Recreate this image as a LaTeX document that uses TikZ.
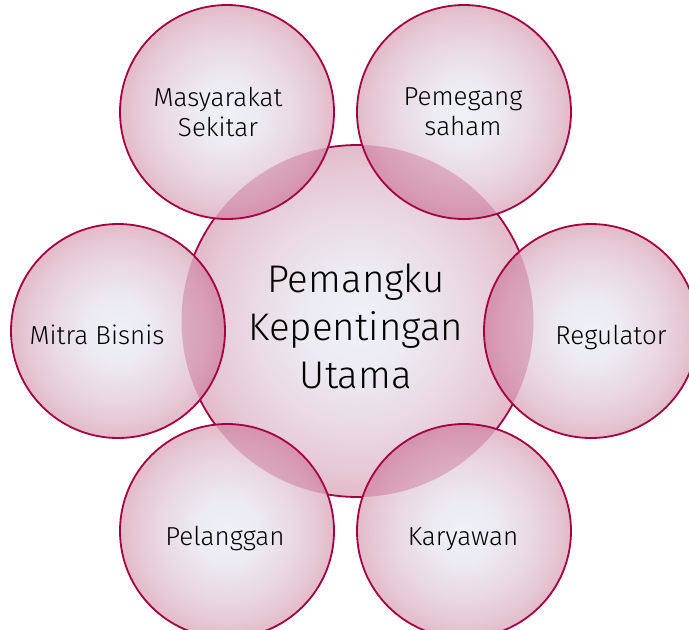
\documentclass[tikz,border=0pt]{standalone}
\usepackage{fontspec}
\setmainfont{Fira Sans Light}
\definecolor{crim}{RGB}{165,0,68}
\definecolor{bcin}{RGB}{238,241,248}
\definecolor{bcout}{RGB}{227,186,201}
\pgfdeclareradialshading{ballshade}{\pgfpoint{0bp}{0bp}}{color(0bp)=(bcin); color(7bp)=(bcin!90!bcout); color(15bp)=(bcin!58!bcout); color(21bp)=(bcin!28!bcout); color(25bp)=(bcout); color(50bp)=(bcout)}
\tikzset{
  ballfill/.style={circle, inner sep=0pt, outer sep=0pt, shading=ballshade},
  rim/.style={draw=crim, line width=1.8pt},
  lens/.style={fill=crim, fill opacity=0.21},
  bigtxt/.style={font=\fontsize{38.5}{48}\selectfont, align=center, text=black},
  smalltxt/.style={font=\fontsize{26}{30}\selectfont, align=center, text=black},
}
\begin{document}
\begin{tikzpicture}[x=1pt,y=-1pt]
\useasboundingbox (0,0) rectangle (689,630);
% central circle
\node[ballfill, rim, minimum size=352pt] (main) at (357.5,321) {};
% outer circles
\foreach \nm/\px/\py in {ms/227/112, ps/464/112, rg/591/331, mb/118/331, pl/227/531, kr/464/531}{
  \node[ballfill, minimum size=214pt] (\nm) at (\px,\py) {};
  \begin{scope}
    \clip (\nm.center) circle (107pt);
    \path[lens] (main.center) circle (176pt);
  \end{scope}
  \draw[rim] (\nm.center) circle (107pt);
}
% labels
\node[bigtxt] (tmain) at (356,326) {Pemangku\\Kepentingan\\Utama};
\node[smalltxt] (tms) at (218,112) {Masyarakat\\Sekitar};
\node[smalltxt] (tps) at (463,112) {Pemegang\\saham};
\node[smalltxt, anchor=base] (trg) at (611,344) {Regulator};
\node[smalltxt, anchor=base] (tmb) at (97,344) {Mitra Bisnis};
\node[smalltxt, anchor=base] (tpl) at (225,545) {Pelanggan};
\node[smalltxt, anchor=base] (tkr) at (463,545) {Karyawan};
\end{tikzpicture}
\end{document}
